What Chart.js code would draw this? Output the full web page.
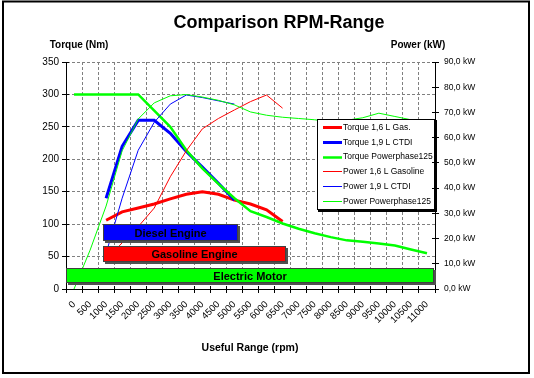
<!DOCTYPE html>
<html><head><meta charset="utf-8">
<script src="https://cdn.jsdelivr.net/npm/chart.js@4/dist/chart.umd.min.js"></script>
<style>html,body{margin:0;padding:0;background:#fff;overflow:hidden}canvas{display:block}</style>
</head><body>
<canvas id="c" width="534" height="378"></canvas>
<script>
// ---- data ----
const rpmLabels = ['0','500','1000','1500','2000','2500','3000','3500','4000','4500','5000','5500',
  '6000','6500','7000','7500','8000','8500','9000','9500','10000','10500','11000'];
const rpmStep = 500;

// torque (Nm, left axis)
const torqueGas  = [null,null,106,119,125,131,139,146,150,146,137,131,122,104,null,null,null,null,null,null,null,null,null];
const torqueCTDI = [null,null,140,220,260,260,240,212,188,163,137,null,null,null,null,null,null,null,null,null,null,null,null];
const torquePP   = [300,300,300,300,300,275,250,214,186,162,140,120,111,101,93,86,80,75,73,70,67,61,55];

// power (kW, right axis)
const powerGas  = [null,null,11.6,18.3,24.7,32.1,44.5,54.8,63.5,67.6,71.0,74.3,76.9,71.7,null,null,null,null,null,null,null,null,null];
const powerCTDI = [null,null,14.1,36.0,55.0,66.1,73.3,76.9,75.9,74.6,73.3,null,null,null,null,null,null,null,null,null,null,null,null];
const powerPP   = [0,15.4,32.9,54.8,67.4,73.8,76.6,77.1,76.1,74.8,73.0,70.2,68.9,68.1,67.6,67.1,66.3,66.9,67.9,69.7,68.4,67.1,64.5];

const seriesNames = ['Torque 1,6 L Gas.','Torque 1,9 L CTDI','Torque Powerphase125',
  'Power 1,6 L Gasoline','Power 1,9 L CTDI','Power Powerphase125'];

// useful ranges (rpm from/to, band in Nm)
const rangeNames    = ['Diesel Engine','Gasoline Engine','Electric Motor'];
const rangeFromRpm  = [912, 912, -250];
const rangeToRpm    = [5120, 6600, 11220];
const rangeTopNm    = [100, 66, 32];
const rangeBottomNm = [74, 41, 9];

const torqueTicks = {min: 0, max: 350, step: 50};
const powerTicks  = {min: 0, max: 90, step: 10};

// ---- styles ----
const FONT = '"Liberation Sans", Arial, Helvetica, sans-serif';
const RED = '#ff0000', BLUE = '#0000ff', GREEN = '#00ff00';
const rangeColors = [BLUE, RED, GREEN];

Chart.defaults.font.family = FONT;
Chart.defaults.color = '#000';

function ds(label, data, color, width, axis, order) {
  return {label, data, borderColor: color, backgroundColor: color, borderWidth: width,
    pointRadius: 0, pointHoverRadius: 0, tension: 0, fill: false, spanGaps: false,
    yAxisID: axis, order};
}

function alignPx(p) { return Math.round(p - 0.5) + 0.5; }

const overlay = {
  id: 'overlay',
  afterDatasetsDraw(chart) {
    const {ctx} = chart;
    const xs = chart.scales.x, ys = chart.scales.y;
    ctx.save();
    for (let i = 0; i < rangeNames.length; i++) {
      const x1 = Math.round(xs.getPixelForValue(rangeFromRpm[i] / rpmStep));
      const x2 = Math.round(xs.getPixelForValue(rangeToRpm[i] / rpmStep));
      const y1 = Math.round(ys.getPixelForValue(rangeTopNm[i]));
      const y2 = Math.round(ys.getPixelForValue(rangeBottomNm[i]));
      const w = x2 - x1, h = y2 - y1;
      ctx.fillStyle = '#505050';
      ctx.fillRect(x1 + 2, y1 + 2, w, h);
      ctx.fillStyle = rangeColors[i];
      ctx.fillRect(x1, y1, w, h);
      ctx.strokeStyle = '#404040';
      ctx.lineWidth = 1;
      ctx.strokeRect(x1 + 0.5, y1 + 0.5, w - 1, h - 1);
      ctx.fillStyle = '#000';
      ctx.font = 'bold 11px ' + FONT;
      ctx.textAlign = 'center';
      ctx.textBaseline = 'middle';
      ctx.fillText(rangeNames[i], (x1 + x2) / 2, (y1 + y2) / 2 + 1);
    }
    ctx.restore();
  },
  afterDraw(chart) {
    const {ctx, chartArea: a} = chart;
    const xs = chart.scales.x, ys = chart.scales.y, y2s = chart.scales.y2;
    ctx.save();
    // legend
    const lx = a.right - 118, ly = a.top + 57, lw = 118, lh = 91;
    ctx.fillStyle = '#000';
    ctx.fillRect(lx + 1, ly + 1, lw + 1, lh + 1);
    ctx.fillStyle = '#fff';
    ctx.fillRect(lx, ly, lw, lh);
    ctx.strokeStyle = '#000';
    ctx.lineWidth = 1;
    ctx.strokeRect(lx + 0.5, ly + 0.5, lw - 1, lh - 1);
    ctx.font = '8.5px ' + FONT;
    ctx.textAlign = 'left';
    ctx.textBaseline = 'middle';
    chart.data.datasets.forEach((d, i) => {
      const cy = ly + 8 + i * 14.8;
      ctx.strokeStyle = d.borderColor;
      ctx.lineWidth = d.borderWidth;
      ctx.beginPath();
      const yy = d.borderWidth % 2 ? Math.round(cy) + 0.5 : Math.round(cy);
      ctx.moveTo(lx + 6, yy);
      ctx.lineTo(lx + 25, yy);
      ctx.stroke();
      ctx.fillStyle = '#000';
      ctx.fillText(d.label, lx + 26, cy + 0.5);
    });
    // inward tick marks (ticks cross the axes)
    ctx.strokeStyle = '#000';
    ctx.lineWidth = 1;
    ctx.beginPath();
    ys.ticks.forEach(t => { const p = alignPx(ys.getPixelForValue(t.value)); ctx.moveTo(a.left, p); ctx.lineTo(a.left + 3, p); });
    y2s.ticks.forEach(t => { const p = alignPx(y2s.getPixelForValue(t.value)); ctx.moveTo(a.right - 3, p); ctx.lineTo(a.right, p); });
    for (let i = 0; i <= rpmLabels.length; i++) {
      const p = alignPx(xs.getPixelForValue(i - 0.5));
      ctx.moveTo(p, a.bottom - 3); ctx.lineTo(p, a.bottom);
    }
    ctx.stroke();
    // texts
    ctx.fillStyle = '#000';
    ctx.textAlign = 'center';
    ctx.textBaseline = 'alphabetic';
    ctx.font = 'bold 18px ' + FONT;
    ctx.fillText('Comparison RPM-Range', 279, 28);
    ctx.font = 'bold 10px ' + FONT;
    ctx.fillText('Torque (Nm)', 79, 48);
    ctx.fillText('Power (kW)', 418, 48);
    ctx.font = 'bold 10.5px ' + FONT;
    ctx.fillText('Useful Range (rpm)', 250, 351);
    // outer frame
    ctx.strokeStyle = '#000';
    ctx.lineWidth = 2;
    ctx.strokeRect(3, 1.5, 526, 371.5);
    ctx.restore();
  }
};

const gridDash = [3, 2];

new Chart(document.getElementById('c'), {
  type: 'line',
  data: {
    labels: rpmLabels,
    datasets: [
      ds(seriesNames[0], torqueGas, RED, 3, 'y', 6),
      ds(seriesNames[1], torqueCTDI, BLUE, 3, 'y', 5),
      ds(seriesNames[2], torquePP, GREEN, 2.5, 'y', 4),
      ds(seriesNames[3], powerGas, RED, 1, 'y2', 3),
      ds(seriesNames[4], powerCTDI, BLUE, 1, 'y2', 2),
      ds(seriesNames[5], powerPP, GREEN, 1, 'y2', 1)
    ]
  },
  options: {
    responsive: false,
    animation: false,
    events: [],
    layout: {padding: {top: 62, left: 0, right: 0, bottom: 0}},
    plugins: {legend: {display: false}, title: {display: false}, tooltip: {enabled: false}},
    scales: {
      x: {
        type: 'category',
        offset: true,
        grid: {offset: true, color: '#808080', lineWidth: 1, tickColor: '#000', tickLength: 4},
        border: {color: '#000', width: 1, dash: gridDash},
        ticks: {autoSkip: false, minRotation: 45, maxRotation: 45, padding: 6,
          font: {size: 9.5, family: FONT}, color: '#000'},
        afterFit(s) { s.height = 89; }
      },
      y: {
        position: 'left',
        min: torqueTicks.min, max: torqueTicks.max,
        grid: {color: '#808080', lineWidth: 1, tickColor: '#000', tickLength: 4},
        border: {color: '#000', width: 1, dash: gridDash},
        ticks: {stepSize: torqueTicks.step, padding: 3, font: {size: 10, family: FONT}, color: '#000'},
        afterFit(s) { s.width = 66; }
      },
      y2: {
        position: 'right',
        min: powerTicks.min, max: powerTicks.max,
        grid: {drawOnChartArea: false, color: '#000', tickColor: '#000', tickLength: 4},
        border: {color: '#000', width: 1},
        ticks: {stepSize: powerTicks.step, padding: 5, font: {size: 8.5, family: FONT}, color: '#000',
          callback: v => v.toFixed(1).replace('.', ',') + ' kW'},
        afterFit(s) { s.width = 99; }
      }
    }
  },
  plugins: [overlay]
});
</script>
</body></html>
